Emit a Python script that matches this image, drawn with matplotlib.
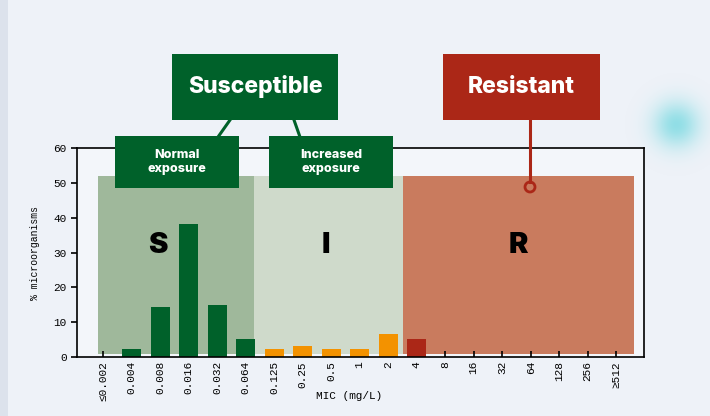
import numpy as np
import matplotlib.pyplot as plt
from matplotlib.patches import Rectangle, Circle

# ====== data ======
mic_labels = ['≤0.002', '0.004', '0.008', '0.016', '0.032', '0.064', '0.125', '0.25',
              '0.5', '1', '2', '4', '8', '16', '32', '64', '128', '256', '≥512']
pct = [0, 2.2, 14.5, 38.2, 15.0, 5.3, 2.2, 3.3, 2.2, 2.2, 6.5, 5.3,
       0, 0, 0, 0, 0, 0, 0]
category = ['S'] * 6 + ['I'] * 5 + ['R'] * 8

# breakpoint zones (in category index units) and their heights
zone_names = ['S', 'I', 'R']
zone_start = [-0.2, 5.3, 10.53]
zone_end = [5.3, 10.53, 18.62]
zone_low = 1
zone_high = 52

# ====== style ======
BG = '#eef2f8'
AX_BG = '#f3f6fa'
GREEN = '#00612a'
ORANGE = '#f39200'
RED = '#ab2717'
bar_colors = {'S': GREEN, 'I': ORANGE, 'R': RED}
zone_colors = {'S': '#9fb89b', 'I': '#cfdacb', 'R': '#c97b5e'}
MONO = 'Liberation Mono'
HEAVY = 'Inter'

fig = plt.figure(figsize=(7.1, 4.16), dpi=100, facecolor=BG)

# page decoration (left border band + soft cyan blob)
deco = fig.add_axes([0, 0, 1, 1], zorder=0)
deco.set_xlim(0, 710)
deco.set_ylim(416, 0)
deco.axis('off')
deco.add_patch(Rectangle((0, 0), 8, 416, color='#dce2ec', lw=0))
yy, xx = np.mgrid[0:416, 0:710]
blob = np.exp(-((xx - 676) ** 2 + (yy - 124) ** 2) / (2 * 16 ** 2))
rgba = np.zeros((416, 710, 4))
rgba[..., 0] = 0.45
rgba[..., 1] = 0.85
rgba[..., 2] = 0.88
rgba[..., 3] = blob * 0.75
deco.imshow(rgba, extent=(0, 710, 416, 0), aspect='auto', interpolation='bilinear')

ax = fig.add_axes([0.1085, 0.1418, 0.7986, 0.5024], zorder=1)
ax.set_facecolor(AX_BG)

x = np.arange(len(mic_labels))
for name, a, b in zip(zone_names, zone_start, zone_end):
    ax.bar((a + b) / 2, zone_high - zone_low, width=b - a, bottom=zone_low,
           color=zone_colors[name], zorder=1)

ax.bar(x, pct, width=0.66, color=[bar_colors[c] for c in category], zorder=2)

letter_x = [1.9, 7.82, 14.56]
for name, lx in zip(zone_names, letter_x):
    ax.text(lx, 32, name, ha='center', va='center', fontsize=21,
            fontweight='black', family=HEAVY, color='black', zorder=3)

ax.set_xlim(-0.92, 18.98)
ax.set_ylim(0, 60)
ax.set_xticks(x)
ax.set_xticklabels(mic_labels, rotation=90, family=MONO, fontsize=8)
ax.set_yticks([0, 10, 20, 30, 40, 50, 60])
ax.tick_params(axis='x', direction='in', length=4, width=1.2, pad=3)
ax.tick_params(axis='y', direction='out', length=4, width=1.2, labelsize=8)
for lab in ax.get_yticklabels():
    lab.set_family(MONO)
for s in ax.spines.values():
    s.set_linewidth(1.2)
    s.set_zorder(4)
ax.set_xlabel('MIC (mg/L)', family=MONO, fontsize=8)
ax.xaxis.set_label_coords(0.48, -0.165)
ax.set_ylabel('% microorganisms', family=MONO, fontsize=7)
ax.yaxis.set_label_coords(-0.065, 0.5)

# ====== category labels on top (pixel coords) ======
ov = fig.add_axes([0, 0, 1, 1], zorder=5)
ov.set_xlim(0, 710)
ov.set_ylim(416, 0)
ov.axis('off')

ov.plot([230, 218], [120, 137], color=GREEN, lw=2.2)
ov.plot([294, 300], [120, 137], color=GREEN, lw=2.2)
ov.plot([530, 530], [120, 182], color=RED, lw=2.2)
ov.add_patch(Circle((530, 187), 5, facecolor='none', edgecolor=RED, lw=2))

boxes = [
    (172, 54, 166, 66, GREEN, 'Susceptible', 16.5),
    (443, 54, 157, 66, RED, 'Resistant', 16.5),
    (115, 136, 124, 52, GREEN, 'Normal\nexposure', 9),
    (269, 136, 124, 52, GREEN, 'Increased\nexposure', 9),
]
for bx, by, bw, bh, col, txt, fs in boxes:
    ov.add_patch(Rectangle((bx, by), bw, bh, color=col, lw=0))
    ov.text(bx + bw / 2, by + bh / 2, txt, ha='center', va='center', color='white',
            fontsize=fs, fontweight='heavy', family=HEAVY, linespacing=1.15)

fig.savefig('out.png', dpi=100, facecolor=BG)
